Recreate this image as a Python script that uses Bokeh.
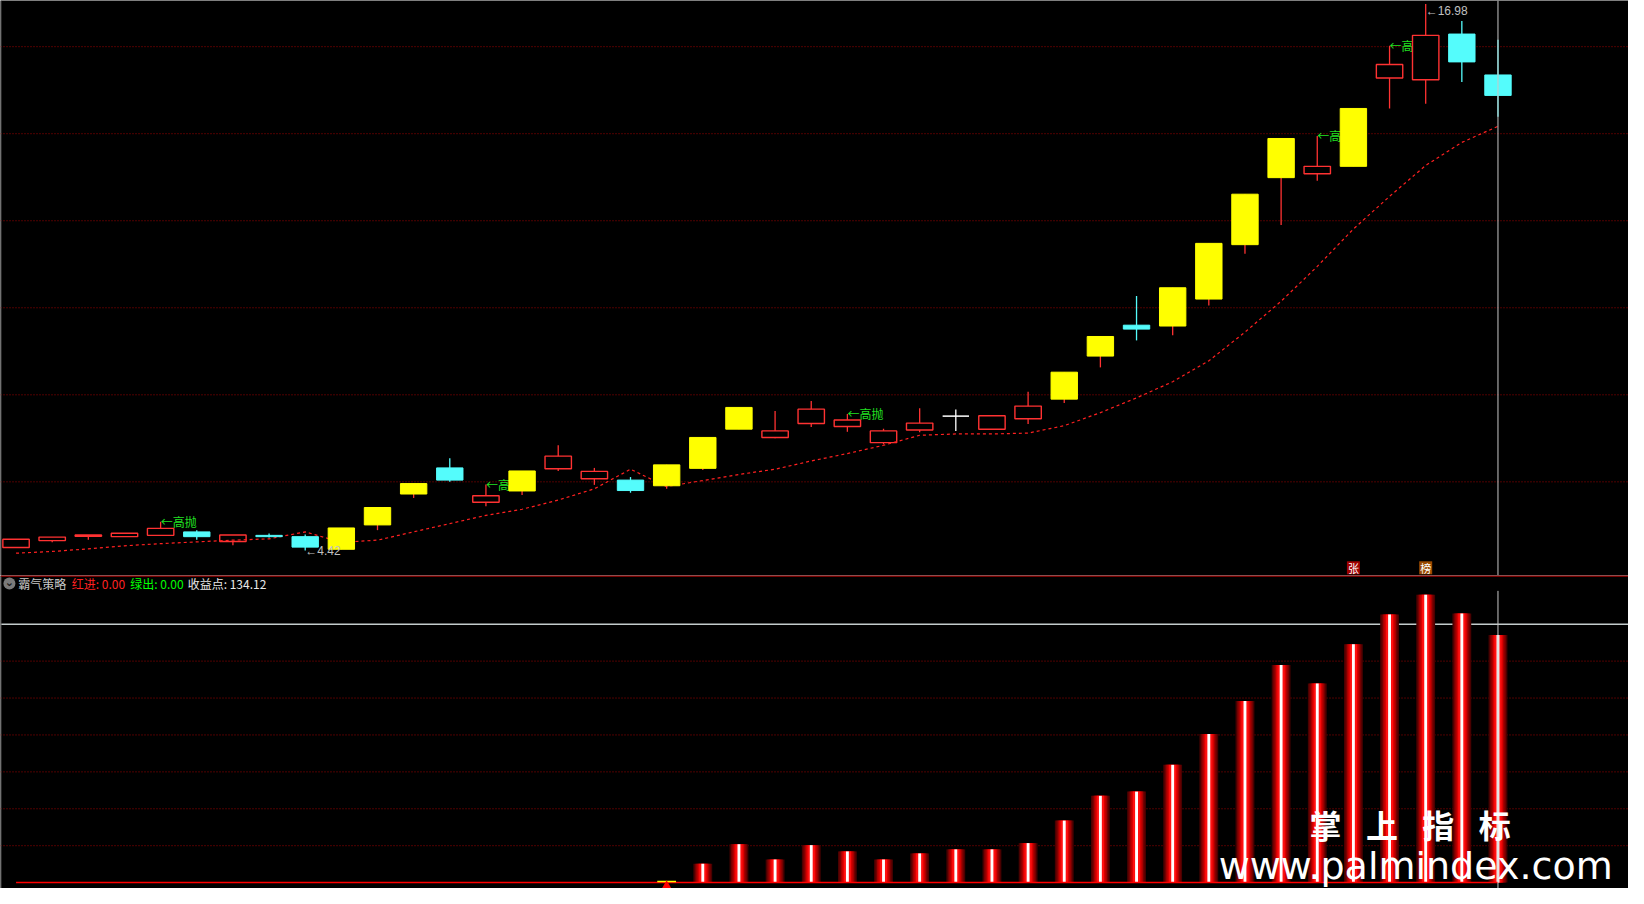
import numpy as np
from bokeh.plotting import figure
from bokeh.layouts import column
from bokeh.models import Range1d, Span
from bokeh.core.properties import value
from bokeh.embed import file_html
from bokeh.resources import INLINE

# ---------------- data ----------------
OPEN = [4.49, 4.65, 4.75, 4.74, 4.77, 4.85, 4.63, 4.77, 4.74, 4.45,
        5.01, 5.72, 6.32, 5.53, 5.79, 6.30, 6.07, 6.04, 5.91, 6.31,
        7.21, 7.02, 7.34, 7.27, 6.90, 7.19, 7.51, 7.21, 7.45, 7.90,
        8.89, 9.60, 9.58, 10.20, 11.45, 12.99, 13.08, 13.25, 15.28, 15.24,
        16.29, 15.35]
HIGH = [4.68, 4.73, 4.78, 4.82, 5.08, 4.89, 4.78, 4.81, 4.79, 4.94,
        5.41, 5.96, 6.54, 5.94, 6.25, 6.84, 6.32, 6.11, 6.39, 7.02,
        7.71, 7.63, 7.86, 7.56, 7.22, 7.69, 7.66, 7.52, 8.07, 8.52,
        9.34, 10.27, 10.46, 11.48, 12.61, 13.89, 13.95, 14.58, 16.02, 16.98,
        16.59, 16.16]
LOW = [4.49, 4.61, 4.67, 4.74, 4.76, 4.67, 4.54, 4.72, 4.42, 4.45,
       4.89, 5.63, 6.00, 5.44, 5.70, 6.25, 5.93, 5.75, 5.84, 6.27,
       7.21, 7.00, 7.26, 7.15, 6.86, 7.14, 7.17, 7.21, 7.33, 7.81,
       8.63, 9.25, 9.37, 10.05, 11.24, 11.90, 12.92, 13.25, 14.58, 14.69,
       15.19, 14.39]
CLOSE = [4.68, 4.73, 4.78, 4.82, 4.93, 4.74, 4.78, 4.74, 4.50, 4.94,
         5.41, 5.96, 6.04, 5.68, 6.25, 6.59, 6.24, 5.80, 6.39, 7.02,
         7.71, 7.17, 7.67, 7.42, 7.17, 7.35, 7.51, 7.52, 7.74, 8.52,
         9.34, 9.51, 10.46, 11.48, 12.61, 13.89, 13.25, 14.58, 15.59, 16.26,
         15.65, 14.88]
# r = red hollow, y = yellow painted, c = cyan (down), w = doji
STYLE = ["r", "r", "r", "r", "r", "c", "r", "c", "c", "y",
         "y", "y", "c", "r", "y", "r", "r", "c", "y", "y",
         "y", "r", "r", "r", "r", "r", "w", "r", "r", "y",
         "y", "c", "y", "y", "y", "y", "r", "y", "r", "r",
         "c", "c"]
MA = [4.36, 4.40, 4.46, 4.53, 4.58, 4.62, 4.66, 4.69, 4.85, 4.61,
      4.66, 4.85, 5.04, 5.23, 5.37, 5.58, 5.84, 6.29, 5.89, 6.03,
      6.17, 6.29, 6.48, 6.65, 6.84, 7.07, 7.10, 7.10, 7.12, 7.29,
      7.59, 7.93, 8.30, 8.78, 9.44, 10.15, 10.95, 11.81, 12.56, 13.27,
      13.80, 14.17]
SELL_IDX = [4, 13, 23, 36, 38]
SELL_TEXT = "←高抛"
MARK_IDX = [37, 39]
MARK_TEXT = ["张", "榜"]
MARK_BG = ["#a00000", "#9a4a00"]
PRICE_GRID = [6, 8, 10, 12, 14, 16]

ENTRY_IDX = 18
BAR_START = 19
BAR_VALUES = [10.2, 20.8, 12.5, 20.3, 16.9, 12.5, 15.8, 18.0, 18.0, 21.4,
              33.6, 47.0, 49.3, 63.8, 80.5, 98.4, 117.9, 107.9, 129.1, 145.3,
              155.9, 145.8, 134.12]
VALUE_GRID = [20, 40, 60, 80, 100, 120]
VALUE_REF = 140
HEADER_NAME = "霸气策略"
HEADER_RED = "红进: 0.00"
HEADER_GREEN = "绿出: 0.00"
HEADER_PROFIT = "收益点: %.2f" % BAR_VALUES[-1]
WATERMARK_CN = ["掌", "上", "指", "标"]
WATERMARK_URL = "www.palmindex.com"

# ---------------- geometry helpers (reference pixel grid) ----------------
X0, DX = 15.7, 36.5
def x_of(px):
    return (px - X0) / DX
def price_of(py):
    return 16 - (py - 47) / 44.3
def val_of(py):
    return (898 - py) / 1.879

W, H1, H2 = 1628, 575, 313
CJK = value("Noto Sans CJK SC")
RED = "#ff3232"
CYAN = "#54fcfc"

n = len(OPEN)
idx = np.arange(n)
o = np.array(OPEN); h = np.array(HIGH); l = np.array(LOW); c = np.array(CLOSE)

xr = Range1d(x_of(0), x_of(1644))

def make_fig(height, yr):
    p = figure(width=W, height=height, x_range=xr, y_range=yr, title=None,
               output_backend="svg", toolbar_location=None,
               x_axis_type=None, y_axis_type=None, min_border=0,
               background_fill_color="black", border_fill_color="black",
               outline_line_color=None)
    return p

p1 = make_fig(H1, Range1d(price_of(585.35), price_of(0)))
p2 = make_fig(H2, Range1d(val_of(904), val_of(585.35)))

# ---------------- upper panel ----------------
for g in PRICE_GRID:
    p1.add_layout(Span(location=g, dimension="width", line_color="#a00000",
                       line_dash="1 2", line_width=1, level="underlay"))
p1.add_layout(Span(location=x_of(0.5), dimension="height", line_color="#505050",
                   line_width=1, level="underlay"))

# signal labels (drawn first so later candles cover them)
p1.text(x=SELL_IDX, y=[HIGH[i] for i in SELL_IDX], text=[SELL_TEXT] * len(SELL_IDX),
        text_color="#22e022", text_font=CJK, text_font_size="12px",
        text_align="left", text_baseline="middle")

wick_col = {"r": RED, "y": RED, "c": CYAN, "w": "#ffffff"}
p1.segment(x0=idx, y0=l, x1=idx, y1=h, line_color=[wick_col[s] for s in STYLE], line_width=1.3)

BW = 0.73
top = np.maximum(o, c); bot = np.minimum(o, c)
r_sel = [i for i, s in enumerate(STYLE) if s == "r"]
p1.vbar(x=idx[r_sel], top=top[r_sel], bottom=bot[r_sel], width=BW,
        fill_color="black", line_color=RED, line_width=1.4)

# moving stop line (dashed)
p1.line(x=idx, y=MA, line_color="#ff2020", line_width=1.2, line_dash="3 3")

y_sel = [i for i, s in enumerate(STYLE) if s == "y"]
p1.vbar(x=idx[y_sel], top=top[y_sel], bottom=bot[y_sel], width=BW,
        fill_color="#ffff00", line_color="#ffff00", line_width=1)
c_sel = [i for i, s in enumerate(STYLE) if s == "c"]
p1.vbar(x=idx[c_sel], top=top[c_sel], bottom=bot[c_sel], width=BW,
        fill_color=CYAN, line_color=CYAN, line_width=1)
w_sel = [i for i, s in enumerate(STYLE) if s == "w"]
p1.segment(x0=idx[w_sel] - BW / 2, y0=c[w_sel], x1=idx[w_sel] + BW / 2, y1=c[w_sel],
           line_color="#ffffff", line_width=1.5)

i_low = int(np.argmin(l)); i_high = int(np.argmax(h))
p1.text(x=[i_low], y=[l[i_low]], text=["←%.2f" % l[i_low]], text_color="#c0c0c0",
        text_font=value("Liberation Sans"), text_font_size="12px",
        text_align="left", text_baseline="middle")
p1.text(x=[i_high], y=[h[i_high]], text=["←%.2f" % h[i_high]], text_color="#c0c0c0",
        text_font=value("Liberation Sans"), text_font_size="12px",
        text_align="left", text_baseline="top")

mark_y = [price_of(577.5)] * len(MARK_IDX)
p1.scatter(x=MARK_IDX, y=mark_y, marker="square", size=13, fill_color=MARK_BG, line_color=None)
p1.text(x=MARK_IDX, y=mark_y, text=MARK_TEXT, text_color="#ffffff", text_font=CJK,
        text_font_size="11px", text_align="center", text_baseline="middle")

p1.add_layout(Span(location=n - 1, dimension="height", line_color="#c8c8c8", line_width=1))

# ---------------- lower panel ----------------
for g in VALUE_GRID:
    p2.add_layout(Span(location=g, dimension="width", line_color="#a00000",
                       line_dash="1 2", line_width=1, level="underlay"))
p2.add_layout(Span(location=VALUE_REF, dimension="width", line_color="#c4cccc",
                   line_width=1.5, level="underlay"))
p2.add_layout(Span(location=x_of(0.5), dimension="height", line_color="#505050",
                   line_width=1, level="underlay"))

bx = idx[BAR_START:BAR_START + len(BAR_VALUES)]
for wdt, col in [(0.52, "#4a0000"), (0.44, "#760000"), (0.36, "#a80000"),
                 (0.28, "#d80000"), (0.20, "#ff1010"), (0.08, "#ffffff")]:
    p2.vbar(x=bx, top=BAR_VALUES, bottom=0, width=wdt, fill_color=col, line_color=None)

p2.line(x=idx, y=np.zeros(n), line_color="#ff0000", line_width=1.5)
p2.segment(x0=[ENTRY_IDX - 0.26], y0=[0.6], x1=[ENTRY_IDX + 0.26], y1=[0.6],
           line_color="#ffff00", line_width=1.5)
p2.scatter(x=[ENTRY_IDX], y=[val_of(902)], marker="triangle", size=11,
           fill_color="#ff0000", line_color=None)

p2.segment(x0=[n - 1], y0=[val_of(904)], x1=[n - 1], y1=[val_of(601)],
           line_color="#c8c8c8", line_width=1)

# separator between panels
p2.add_layout(Span(location=val_of(585.8), dimension="width", line_color="#a00000", line_width=1.5))

# header
hy = [val_of(593.5)]
p2.scatter(x=[x_of(9)], y=hy, marker="circle", size=12, fill_color="#7a7a7a", line_color=None)
p2.text(x=[x_of(9)], y=[val_of(592.5)], text=["⌄"], text_color="#1a1a1a",
        text_font=value("DejaVu Sans"), text_font_size="11px",
        text_align="center", text_baseline="middle", text_font_style="bold")
for txt, col, px in [(HEADER_NAME, "#c8c8c8", 18), (HEADER_RED, "#ff2020", 72),
                     (HEADER_GREEN, "#00ff00", 131), (HEADER_PROFIT, "#e8e8e8", 189)]:
    p2.text(x=[x_of(px)], y=hy, text=[txt], text_color=col, text_font=CJK,
            text_font_size="12px", text_align="left", text_baseline="middle")

# watermark
for ch, px in zip(WATERMARK_CN, [1338, 1395, 1452, 1509]):
    p2.text(x=[x_of(px)], y=[val_of(838.5)], text=[ch], text_color="#ffffff",
            text_font=CJK, text_font_size="32px", text_font_style="bold",
            text_align="center", text_baseline="middle")
p2.text(x=[x_of(1628)], y=[val_of(881)], text=[WATERMARK_URL], text_color="#ffffff",
        text_font=value("DejaVu Sans"), text_font_size="38px",
        text_align="right", text_baseline="alphabetic")

layout = column(p1, p2, spacing=0)
open("out.html", "w").write(file_html(layout, INLINE))
